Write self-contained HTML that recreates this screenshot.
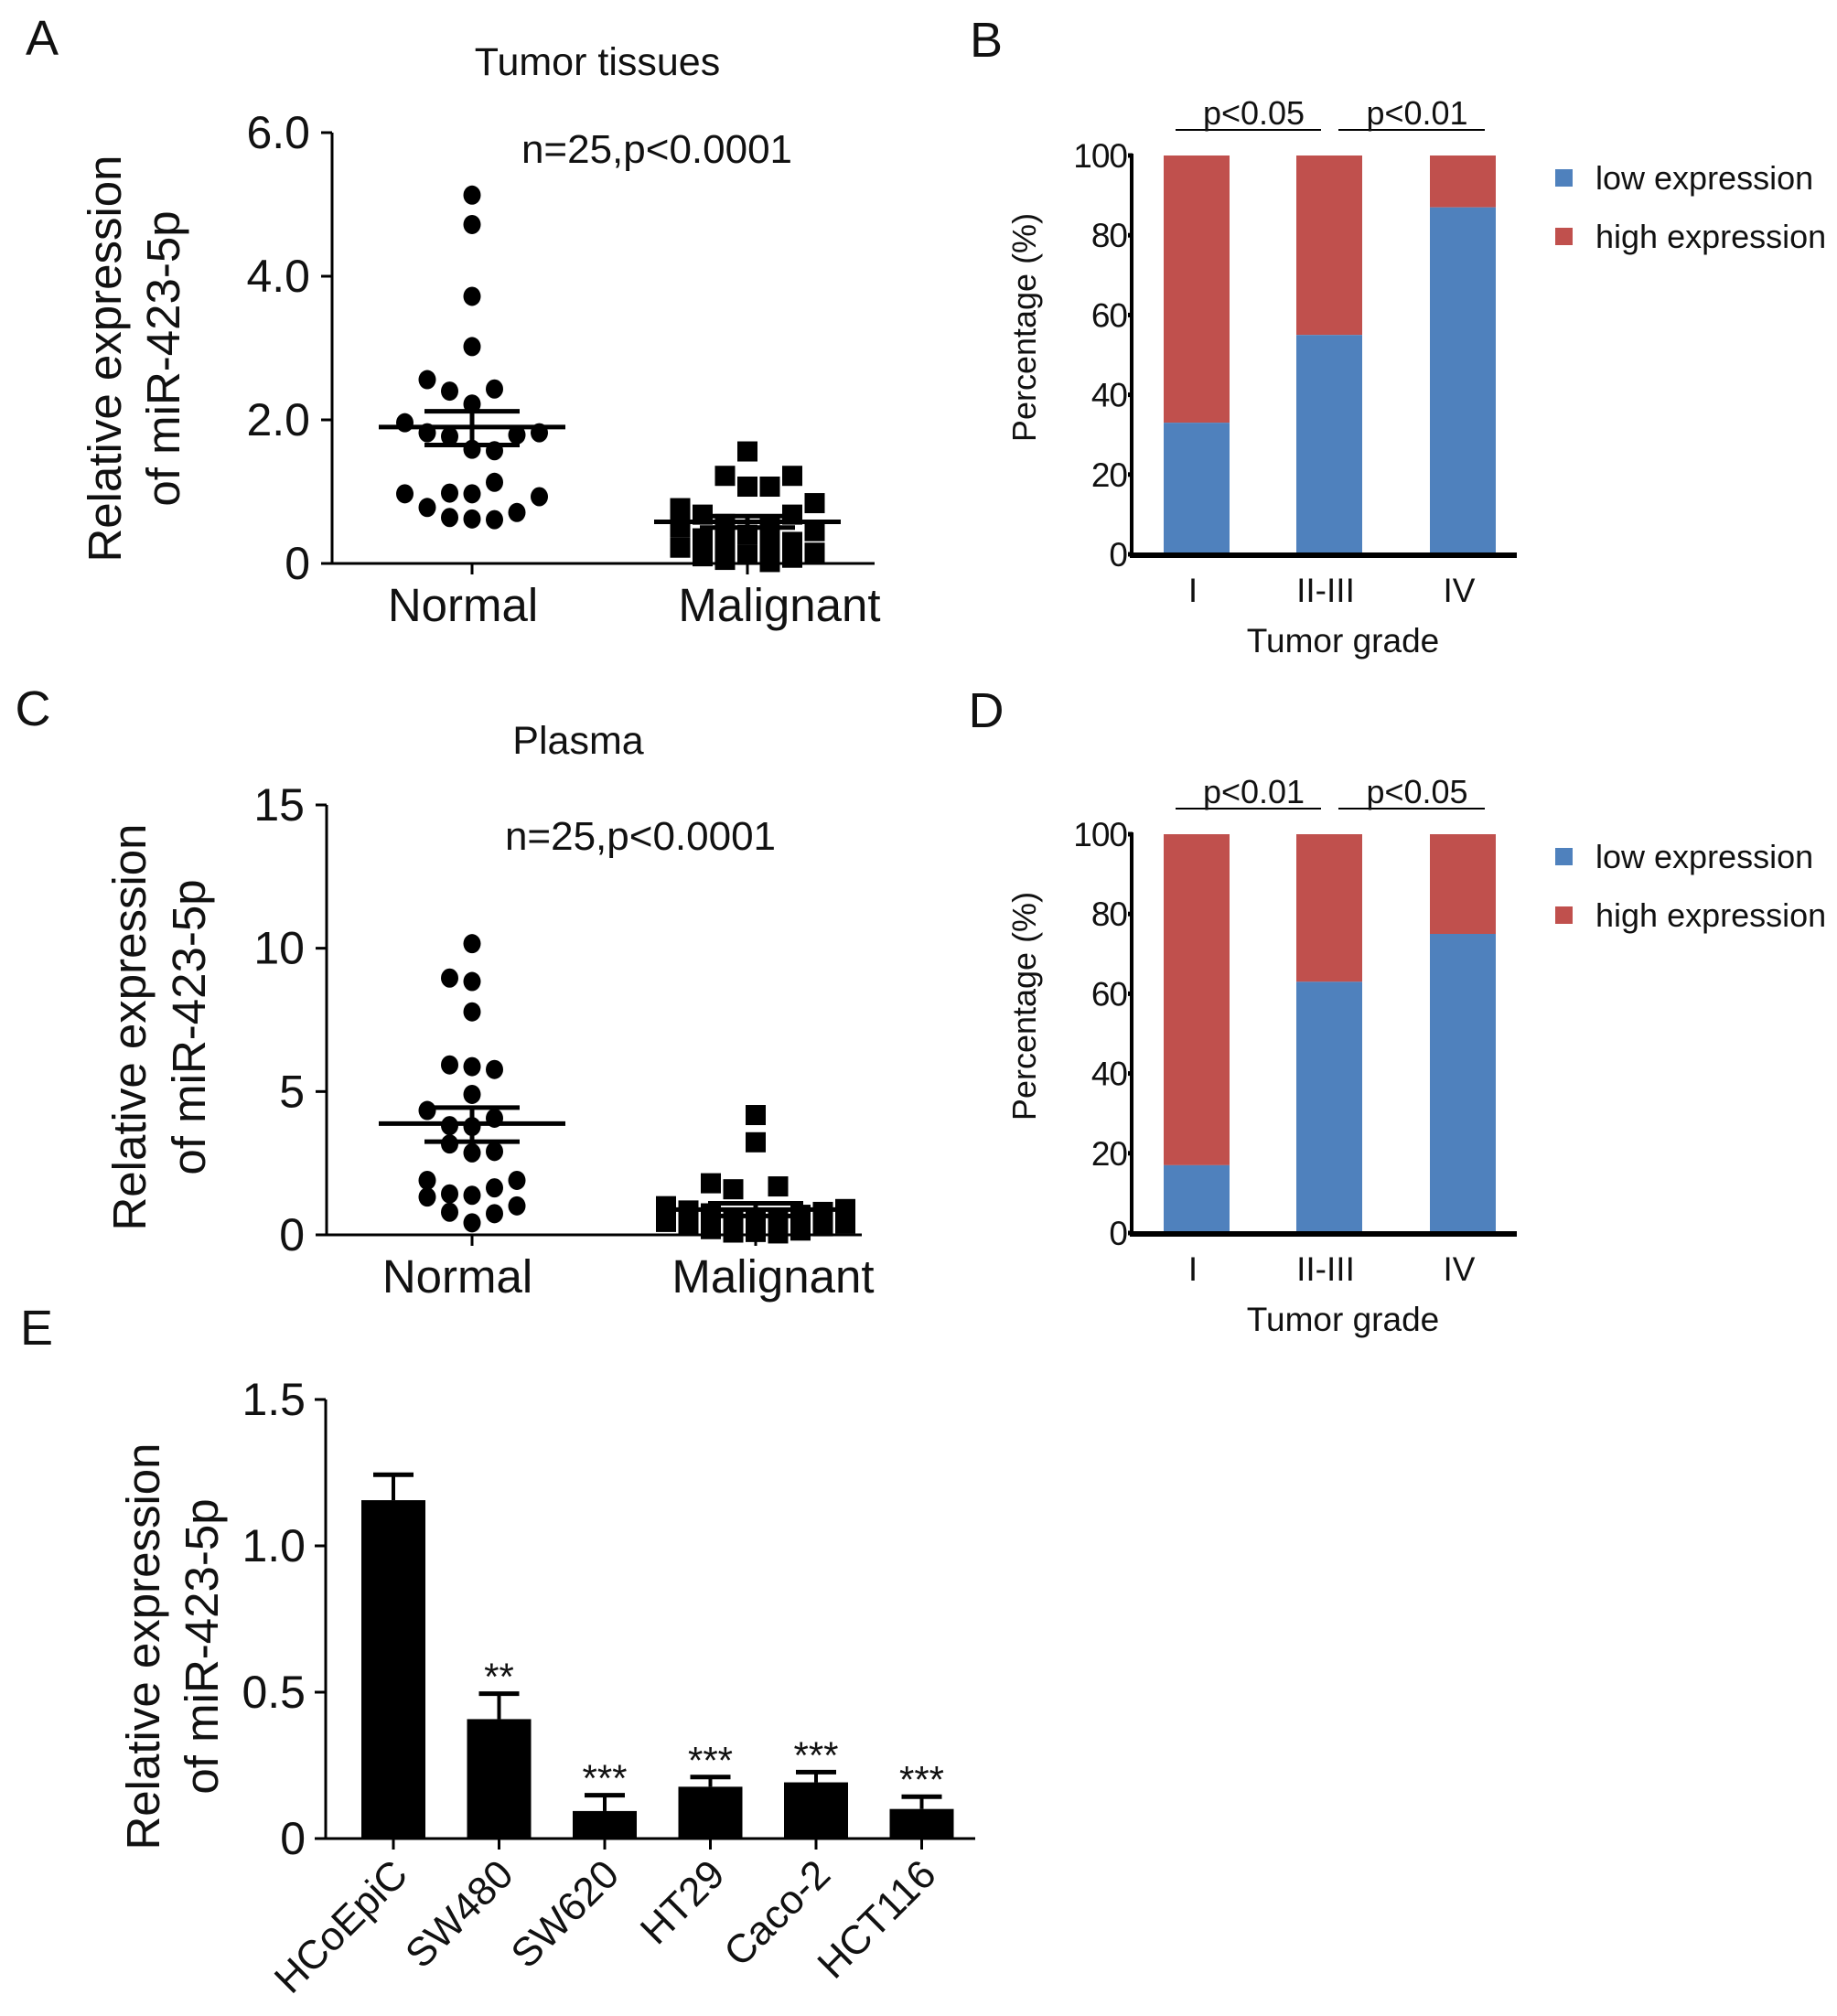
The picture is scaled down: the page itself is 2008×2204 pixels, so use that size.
<!DOCTYPE html>
<html><head><meta charset="utf-8">
<style>
html,body{margin:0;padding:0;background:#fff;}
svg{display:block;font-family:"Liberation Sans",Arial,sans-serif;}
</style></head>
<body>
<svg id="fig" width="2008" height="2204" viewBox="0 0 2008 2204" xmlns="http://www.w3.org/2000/svg">
<rect width="2008" height="2204" fill="#fff"/>
<g id="root"></g>
</svg>
<script>
// ---- Panel A data ----
const aCategories = ["Normal", "Malignant"];
const aTicks = [0, 2, 4, 6];
const aTickLabels = ["0", "2.0", "4.0", "6.0"];
const aNormal = [5.13,4.72,3.72,3.02,2.56,2.40,2.43,2.22,1.96,1.82,1.77,1.79,1.82,1.59,1.57,1.13,0.97,0.98,0.97,0.93,0.78,0.64,0.62,0.61,0.71];
const aNormalSlot = [0,0,0,0,-2,-1,1,0,-3,-2,-1,2,3,0,1,1,-3,-1,0,3,-2,-1,0,1,2];
const aMalig = [1.56,1.22,1.22,1.07,1.07,0.84,0.77,0.68,0.68,0.55,0.52,0.50,0.45,0.40,0.35,0.30,0.28,0.25,0.22,0.15,0.12,0.10,0.08,0.05,0.02];
const aMaligSlot = [0,-1,2,0,1,3,-3,-2,2,-1,1,-3,3,0,-2,2,-1,1,-3,3,0,-2,2,-1,1];
const aStats = {nMean:1.90, nSemHi:2.12, nSemLo:1.65, mMean:0.58, mSemHi:0.66, mSemLo:0.50};

// ---- Panel C data ----
const cCategories = ["Normal", "Malignant"];
const cTicks = [0, 5, 10, 15];
const cTickLabels = ["0", "5", "10", "15"];
const cNormal = [10.16,8.96,8.84,7.78,5.93,5.87,5.77,4.9,4.34,4.07,3.81,3.78,3.17,2.86,2.91,1.90,1.90,1.64,1.43,1.38,1.32,1.01,0.79,0.74,0.42];
const cNormalSlot = [0,-1,0,0,-1,0,1,0,-2,1,-1,0,-1,0,1,-2,2,1,-1,0,-2,2,-1,1,0];
const cMalig = [4.18,3.23,1.80,1.69,1.59,1.00,0.90,0.85,0.80,0.75,0.70,0.60,0.55,0.50,0.45,0.40,0.35,0.30,0.30,0.25,0.20,0.15,0.10,0.08,0.05];
const cMaligSlot = [0,0,-2,1,-1,-4,4,-3,3,-2,2,-1,1,0,-4,4,-3,3,-1,1,-2,2,0,-1,1];
const cStats = {nMean:3.88, nSemHi:4.44, nSemLo:3.25, mMean:0.88, mSemHi:1.10, mSemLo:0.66};

// ---- Panels B / D data ----
const gradeCategories = ["I", "II-III", "IV"];
const pctTicks = [0, 20, 40, 60, 80, 100];
const bLow = [33, 55, 87];
const dLow = [17, 63, 75];
const bPvals = ["p<0.05", "p<0.01"];
const dPvals = ["p<0.01", "p<0.05"];

// ---- Panel E data ----
const eCategories = ["HCoEpiC","SW480","SW620","HT29","Caco-2","HCT116"];
const eValues = [1.156, 0.408, 0.094, 0.177, 0.192, 0.101];
const eErrors = [0.087, 0.087, 0.054, 0.033, 0.035, 0.042];
const eStars = ["", "**", "***", "***", "***", "***"];
const eTicks = [0, 0.5, 1.0, 1.5];
const eTickLabels = ["0", "0.5", "1.0", "1.5"];

const NS = "http://www.w3.org/2000/svg";
const root = document.getElementById("root");
function mk(tag, attrs, parent, text){
  const e = document.createElementNS(NS, tag);
  for (const k in attrs) e.setAttribute(k, attrs[k]);
  if (text !== undefined) e.textContent = text;
  (parent || root).appendChild(e);
  return e;
}
function grp(name, parent){
  const g = mk("g", {}, parent);
  
  
  return g;
}
function label(txt, x, y, size, anchor, name, parent, extra){
  const t = mk("text", Object.assign({x:x, y:y, "font-size":size, "text-anchor":anchor||"middle", fill:"#111"}, extra||{}), parent, txt);
  
  
  return t;
}

// ===== Scatter panel =====
function scatter(cfg){
  const g = grp(cfg.name);
  const yS = v => cfg.y0 - (v - cfg.min)/(cfg.max - cfg.min)*(cfg.y0 - cfg.yTop);
  const ya = mk("line", {x1:cfg.ax, y1:cfg.yTop, x2:cfg.ax, y2:cfg.y0, stroke:"#000","stroke-width":3}, g);
   
  const xa = mk("line", {x1:cfg.ax-12, y1:cfg.y0, x2:cfg.xEnd, y2:cfg.y0, stroke:"#000","stroke-width":3}, g);
   
  cfg.ticks.forEach((t,i)=>{
    const y = yS(t);
    const tk = mk("line", {x1:cfg.ax-12, y1:y, x2:cfg.ax, y2:y, stroke:"#000","stroke-width":3}, g);
     
    label(cfg.tickLabels[i], cfg.ax-24, y+17, 50, "end", "y-tick-label", g);
  });
  cfg.cats.forEach((c,i)=>{
    const x = cfg.cx[i];
    const tk = mk("line", {x1:x, y1:cfg.y0, x2:x, y2:cfg.y0+12, stroke:"#000","stroke-width":3}, g);
     
    label(c, cfg.labX[i], cfg.y0+63, 51, "middle", "x-label-"+c.toLowerCase(), g);
  });
  cfg.normal.forEach((v,i)=>{
    const p = mk("ellipse", {cx:cfg.cx[0]+cfg.nSlot[i]*24.5, cy:yS(v), rx:9.5, ry:10.5, fill:"#000"}, g);
     
  });
  cfg.malig.forEach((v,i)=>{
    const p = mk("rect", {x:cfg.cx[1]+cfg.mSlot[i]*24.5-11, y:yS(v)-11, width:22, height:22, fill:"#000"}, g);
     
  });
  const s = cfg.stats;
  [[0,s.nMean,s.nSemHi,s.nSemLo],[1,s.mMean,s.mSemHi,s.mSemLo]].forEach(([i,m,hi,lo])=>{
    const x = cfg.cx[i];
    const ml = mk("line", {x1:x-102, y1:yS(m), x2:x+102, y2:yS(m), stroke:"#000","stroke-width":5}, g);
     
    [hi,lo].forEach(v=>{
      const sl = mk("line", {x1:x-52, y1:yS(v), x2:x+52, y2:yS(v), stroke:"#000","stroke-width":5}, g);
       
    });
    const vl = mk("line", {x1:x, y1:yS(hi), x2:x, y2:yS(lo), stroke:"#000","stroke-width":5}, g);
     
  });
  label(cfg.title, cfg.titleX, cfg.titleY, 43, "middle", "panel-title", g);
  label("n=25,p<0.0001", cfg.nX, cfg.nY, 44, "middle", "stat-annotation", g);
  const yt = grp("y-axis-title", g);
  label("Relative  expression", 0, 0, 51, "middle", "y-title-line1", yt, {transform:`translate(${cfg.yt1},${cfg.ytY}) rotate(-90)`});
  label("of miR-423-5p", 0, 0, 51, "middle", "y-title-line2", yt, {transform:`translate(${cfg.yt2},${cfg.ytY}) rotate(-90)`});
}

scatter({name:"panel-a", min:0, max:6, y0:616, yTop:145, ax:363, xEnd:956, ticks:aTicks, tickLabels:aTickLabels,
  cats:aCategories, cx:[516,817], labX:[506,852], normal:aNormal, nSlot:aNormalSlot, malig:aMalig, mSlot:aMaligSlot,
  stats:aStats, title:"Tumor tissues", titleX:653, titleY:82, nX:718, nY:178, yt1:132, yt2:196, ytY:392});
scatter({name:"panel-c", min:0, max:15, y0:1350, yTop:880, ax:357, xEnd:942, ticks:cTicks, tickLabels:cTickLabels,
  cats:cCategories, cx:[516,826], labX:[500,845], normal:cNormal, nSlot:cNormalSlot, malig:cMalig, mSlot:cMaligSlot,
  stats:cStats, title:"Plasma", titleX:632, titleY:824, nX:700, nY:929, yt1:159, yt2:224, ytY:1123});

// ===== Stacked bar panels =====
function stacked(cfg){
  const g = grp(cfg.name);
  const y0 = cfg.y0, yTop = cfg.y0 - 436;
  const yS = v => y0 - v/100*(y0 - yTop);
  const cx = [1308, 1453, 1599];
  const bw = 72;
  gradeCategories.forEach((c,i)=>{
    const lowH = y0 - yS(cfg.low[i]);
    const hb = mk("rect", {x:cx[i]-bw/2, y:yTop, width:bw, height:(y0-yTop)-lowH, fill:"#c0504d"}, g);
     
    const lb = mk("rect", {x:cx[i]-bw/2, y:yS(cfg.low[i]), width:bw, height:lowH, fill:"#4f81bd"}, g);
     
    label(c, cx[i]-4, y0+52, 37, "middle", "x-label", g);
  });
  const ya = mk("line", {x1:1237, y1:yTop-2, x2:1237, y2:y0, stroke:"#000","stroke-width":4}, g);
   
  const xa = mk("line", {x1:1235, y1:y0+1, x2:1658, y2:y0+1, stroke:"#000","stroke-width":6}, g);
   
  pctTicks.forEach(t=>{
    const y = yS(t);
    const tk = mk("line", {x1:1233, y1:y, x2:1238, y2:y, stroke:"#000","stroke-width":5}, g);
     
    label(String(t), 1232, y+13, 37, "end", "y-tick-label", g, {"letter-spacing":"-1"});
  });
  [[1285,1444],[1463,1623]].forEach((r,i)=>{
    const yl = yTop - 28;
    const l = mk("line", {x1:r[0], y1:yl, x2:r[1], y2:yl, stroke:"#000","stroke-width":2}, g);
     
    label(cfg.pv[i], (r[0]+r[1])/2+6, yl-6, 36, "middle", "p-value-label", g);
  });
  label("Percentage (%)", 0, 0, 36, "middle", "y-axis-title", g, {transform:`translate(1132,${y0-248}) rotate(-90)`});
  label("Tumor grade", 1468, y0+107, 37, "middle", "x-axis-title", g);
  const lg = grp("legend", g);
  [["low expression","#4f81bd",yTop+24],["high expression","#c0504d",yTop+88]].forEach(([t,c,y])=>{
    const sq = mk("rect", {x:1700, y:y-9, width:19, height:19, fill:c}, lg);
     
    label(t, 1744, y+13, 36, "start", "legend-entry", lg);
  });
}
stacked({name:"panel-b", y0:606, low:bLow, pv:bPvals});
stacked({name:"panel-d", y0:1348, low:dLow, pv:dPvals});

// ===== Panel E bar chart =====
(function(){
  const g = grp("panel-e");
  const y0 = 2010, yTop = 1530;
  const yS = v => y0 - v/1.5*(y0 - yTop);
  const x0 = 430, step = 115.5, bw = 70;
  eCategories.forEach((c,i)=>{
    const x = x0 + i*step;
    const b = mk("rect", {x:x-bw/2, y:yS(eValues[i]), width:bw, height:y0-yS(eValues[i]), fill:"#000"}, g);
     
    const top = yS(eValues[i]+eErrors[i]);
    const ev = mk("line", {x1:x, y1:yS(eValues[i]), x2:x, y2:top, stroke:"#000","stroke-width":4}, g);
     
    const ec = mk("line", {x1:x-22, y1:top, x2:x+22, y2:top, stroke:"#000","stroke-width":5}, g);
     
    if (eStars[i]) label(eStars[i], x, top-4, 42, "middle", "significance-stars", g);
    const tk = mk("line", {x1:x, y1:y0, x2:x, y2:y0+12, stroke:"#000","stroke-width":3}, g);
     
    label(c, 0, 0, 44, "end", "x-label", g, {transform:`translate(${x+18},${y0+42}) rotate(-45)`});
  });
  const ya = mk("line", {x1:356, y1:yTop, x2:356, y2:y0, stroke:"#000","stroke-width":3}, g);
   
  const xa = mk("line", {x1:344, y1:y0, x2:1066, y2:y0, stroke:"#000","stroke-width":3}, g);
   
  eTicks.forEach((t,i)=>{
    const y = yS(t);
    const tk = mk("line", {x1:344, y1:y, x2:356, y2:y, stroke:"#000","stroke-width":3}, g);
     
    label(eTickLabels[i], 334, y+17, 50, "end", "y-tick-label", g);
  });
  const yt = grp("y-axis-title", g);
  label("Relative expression", 0, 0, 51, "middle", "y-title-line1", yt, {transform:`translate(174,1800) rotate(-90)`});
  label("of miR-423-5p", 0, 0, 51, "middle", "y-title-line2", yt, {transform:`translate(238,1800) rotate(-90)`});
})();

label("A", 46, 60, 54, "middle", "panel-label-a", root);
label("B", 1078, 62, 54, "middle", "panel-label-b", root);
label("C", 36, 793, 54, "middle", "panel-label-c", root);
label("D", 1078, 795, 54, "middle", "panel-label-d", root);
label("E", 40, 1470, 54, "middle", "panel-label-e", root);
</script>
</body></html>
